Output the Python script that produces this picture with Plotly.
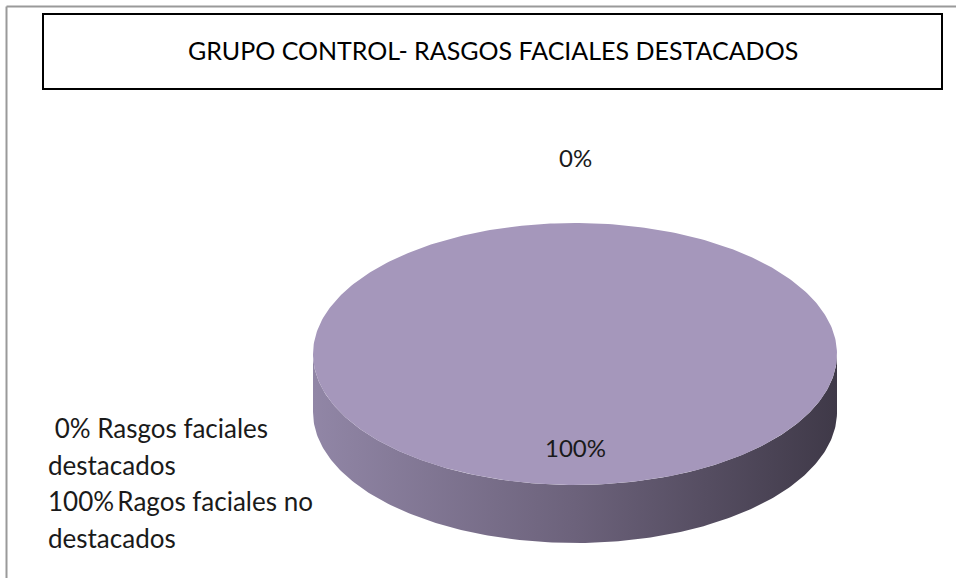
import numpy as np
import plotly.graph_objects as go

# Data
categories = ["Rasgos faciales destacados", "Ragos faciales no destacados"]
values = [0, 100]
legend_wrapped = [["Rasgos faciales", "destacados"], ["Ragos faciales no", "destacados"]]
title_text = "GRUPO CONTROL- RASGOS FACIALES DESTACADOS"

W, H = 956, 578
FONT = "Lato"

# 3D pie geometry (pixel-based axes)
cx, cy, rx, ry, depth = 575, 354, 262, 131, 58
top_colors = ["#4F81BD", "#A597BB"]
side_scales = [
    [[0, "#6E8DB8"], [1, "#2E4A6E"]],
    [[0, "#9186A6"], [0.5, "#6C627B"], [1, "#3F3948"]],
]


def ell(a, dy=0.0):
    return cx + rx * np.sin(a), cy - ry * np.cos(a) + dy


fig = go.Figure()
total = float(sum(values))
pcts = [round(v / total * 100) for v in values]

angles = []
cum = 0.0
for v in values:
    a0 = 2 * np.pi * cum / total
    a1 = 2 * np.pi * (cum + v) / total
    angles.append((a0, a1))
    cum += v

# outer walls of the slices (front half only)
for i, (a0, a1) in enumerate(angles):
    s0, s1 = max(a0, np.pi / 2), min(a1, 3 * np.pi / 2)
    if s1 <= s0:
        continue
    t = np.linspace(s0, s1, 200)
    xt, yt = ell(t)
    xb, yb = ell(t[::-1], depth)
    xs = np.concatenate([xt, xb, xt[:1]])
    ys = np.concatenate([yt, yb, yt[:1]])
    fig.add_trace(go.Scatter(
        x=xs, y=ys, mode="lines", fill="toself", line=dict(width=0),
        fillgradient=dict(type="horizontal", colorscale=side_scales[i],
                          start=cx - rx, stop=cx + rx),
        hoverinfo="skip", showlegend=False))

# top faces
for i, (a0, a1) in enumerate(angles):
    if a1 - a0 <= 0:
        continue
    t = np.linspace(a0, a1, 400)
    xt, yt = ell(t)
    xs = np.concatenate([[cx], xt, [cx]])
    ys = np.concatenate([[cy], yt, [cy]])
    fig.add_trace(go.Scatter(
        x=xs, y=ys, mode="lines", fill="toself", fillcolor=top_colors[i],
        line=dict(width=0), hoverinfo="skip", showlegend=False))

# percentage labels
for i, ((a0, a1), p) in enumerate(zip(angles, pcts)):
    am = (a0 + a1) / 2
    f = 0.71 if values[i] > 0 else 1.5
    lx, ly = cx + rx * f * np.sin(am), cy - ry * f * np.cos(am)
    fig.add_annotation(x=lx, y=ly, text=f"{p}%", showarrow=False,
                       xanchor="center", yanchor="middle",
                       font=dict(family=FONT, size=24, color="#1a1a1a"))

# legend text on the left
ly0, step = 428, 36.7
k = 0
for p, lines in zip(pcts, legend_wrapped):
    for j, line in enumerate(lines):
        head = f" {p}% " if p < 10 else f"{p}%\u2009"
        txt = head + line if j == 0 else line
        fig.add_annotation(x=46, y=ly0 + step * k, text=txt, showarrow=False,
                           xanchor="left", yanchor="middle",
                           font=dict(family=FONT, size=26, color="#1a1a1a"))
        k += 1

# title box
fig.add_shape(type="rect", x0=43, y0=14, x1=942, y1=89,
              line=dict(color="black", width=2), fillcolor="white", layer="below")
fig.add_annotation(x=492.5, y=50, text=title_text, showarrow=False,
                   xanchor="center", yanchor="middle",
                   font=dict(family=FONT, size=25, color="black"))

# chart area border (top and left edges)
fig.add_shape(type="line", x0=6.5, y0=6.5, x1=W, y1=6.5,
              line=dict(color="#9a9a9a", width=2))
fig.add_shape(type="line", x0=6.5, y0=6.5, x1=6.5, y1=H,
              line=dict(color="#9a9a9a", width=2))

fig.update_layout(
    width=W, height=H, margin=dict(l=0, r=0, t=0, b=0),
    paper_bgcolor="white", plot_bgcolor="white", showlegend=False,
    xaxis=dict(range=[0, W], visible=False, fixedrange=True),
    yaxis=dict(range=[H, 0], visible=False, fixedrange=True),
)

fig.write_html("out.html", config={"displayModeBar": False})
